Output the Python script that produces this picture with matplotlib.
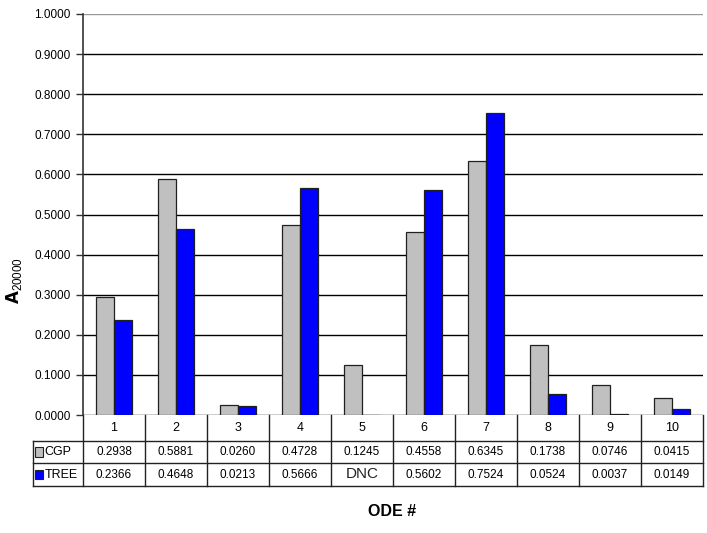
import matplotlib
matplotlib.use("Agg")
import matplotlib.pyplot as plt
import matplotlib.transforms as mtransforms
from matplotlib.patches import Rectangle
import numpy as np

plt.rcParams['font.family'] = ['Liberation Sans Narrow', 'Liberation Sans', 'DejaVu Sans']

# data
odes = ['1', '2', '3', '4', '5', '6', '7', '8', '9', '10']
cgp = [0.2938, 0.5881, 0.0260, 0.4728, 0.1245, 0.4558, 0.6345, 0.1738, 0.0746, 0.0415]
tree = [0.2366, 0.4648, 0.0213, 0.5666, np.nan, 0.5602, 0.7524, 0.0524, 0.0037, 0.0149]
series_names = ['CGP', 'TREE']
colors = ['#C0C0C0', '#0000FF']

fig = plt.figure(figsize=(7.07, 5.33), dpi=100)
ax = fig.add_axes([83/707, 1 - 415/533, 620/707, 401/533])

x = np.arange(len(odes))
w = 0.29
ax.bar(x - w/2, cgp, w, color=colors[0], edgecolor='#202020', linewidth=0.9, zorder=3)
ax.bar(x + w/2, np.nan_to_num(tree), w, color=colors[1], edgecolor='#202020', linewidth=0.9, zorder=3)

ax.set_xlim(-0.5, len(odes) - 0.5)
ax.set_ylim(0, 1.0)
yt = np.arange(0, 1.01, 0.1)
ax.set_yticks(yt)
ax.set_yticklabels(['%.4f' % v for v in yt], fontsize=8.5)
ax.set_xticks([])
# horizontal gridlines, the top one is lighter
for v in yt[:-1]:
    ax.axhline(v, color='black', linewidth=1.0, zorder=0)
ax.axhline(yt[-1], color='#999999', linewidth=1.0, zorder=0)
ax.tick_params(axis='y', length=5, width=1, color='#333333', pad=4)
for s in ['top', 'right', 'bottom']:
    ax.spines[s].set_visible(False)
ax.spines['left'].set_linewidth(1.2)
ax.spines['left'].set_color('#333333')

# data table below the plot
trans = mtransforms.blended_transform_factory(ax.transData, ax.transAxes)
rows_y = [0, -26/401, -48/401, -71/401]
x_left = -0.5 - 50/62
x_right = len(odes) - 0.5
lkw = dict(transform=trans, color='#222222', linewidth=1.0, clip_on=False)
for yy in rows_y[1:]:
    ax.plot([x_left, x_right], [yy, yy], **lkw)
ax.plot([x_left, x_left], [rows_y[1], rows_y[3]], **lkw)
for i in range(len(odes) + 1):
    ax.plot([i - 0.5, i - 0.5], [0, rows_y[3]], **lkw)

for i, lab in enumerate(odes):
    ax.text(i, (rows_y[0] + rows_y[1]) / 2, lab, transform=trans, ha='center', va='center', fontsize=9)

for r, vals in enumerate([cgp, tree]):
    yc = (rows_y[r + 1] + rows_y[r + 2]) / 2
    for i, v in enumerate(vals):
        if np.isnan(v):
            ax.text(i, yc, 'DNC', transform=trans, ha='center', va='center', fontsize=11,
                    family=['Liberation Sans', 'DejaVu Sans'], color='#222222')
        else:
            ax.text(i, yc, '%.4f' % v, transform=trans, ha='center', va='center', fontsize=8.5)
    # legend key + series name
    ax.add_patch(Rectangle((x_left + 0.03, yc - 0.012), 0.13, 0.024, transform=trans,
                           facecolor=colors[r], edgecolor='#222222', linewidth=0.8, clip_on=False))
    ax.text(x_left + 0.19, yc, series_names[r], transform=trans, ha='left', va='center', fontsize=9)

fig.text(14/707, 1 - 280/533, r'$\mathbf{A}_{\mathregular{20000}}$', rotation=90,
         ha='center', va='center', fontsize=12)
fig.text(392/707, 1 - 512/533, 'ODE #', ha='center', va='center', fontsize=11.5, fontweight='bold')

fig.savefig('out.png', dpi=100)
